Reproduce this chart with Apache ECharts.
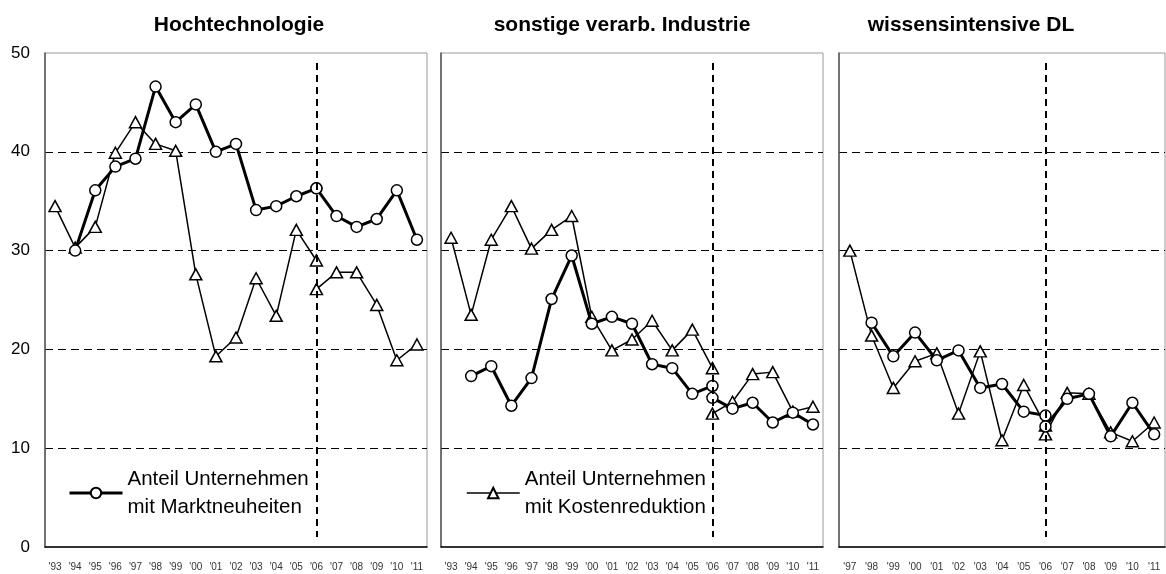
<!DOCTYPE html>
<html>
<head>
<meta charset="utf-8">
<script src="https://cdn.jsdelivr.net/npm/echarts@6/dist/echarts.min.js"></script>
<style>
  html, body { margin: 0; padding: 0; background: #fff; }
  #chart { width: 1166px; height: 574px; }
</style>
</head>
<body>
<div id="chart"></div>
<script>
// Jahre
var jahreLang = ["'93","'94","'95","'96","'97","'98","'99","'00","'01","'02","'03","'04","'05","'06","'07","'08","'09","'10","'11"];
var jahreKurz = ["'97","'98","'99","'00","'01","'02","'03","'04","'05","'06","'07","'08","'09","'10","'11"];
var yTicks = [0, 10, 20, 30, 40, 50];
var titel = ['Hochtechnologie', 'sonstige verarb. Industrie', 'wissensintensive DL'];

// Hochtechnologie: bis '06 (alt) und ab '06 (neu)
var hochMarktAlt = [null, 30.0, 36.1, 38.5, 39.3, 46.6, 43.0, 44.8, 40.0, 40.8, 34.1, 34.5, 35.5, 36.3];
var hochMarktNeu = [36.3, 33.5, 32.4, 33.2, 36.1, 31.1];
var hochKostenAlt = [34.5, 30.3, 32.4, 39.9, 43.0, 40.8, 40.1, 27.6, 19.3, 21.2, 27.2, 23.4, 32.1, 29.0];
var hochKostenNeu = [26.1, 27.8, 27.8, 24.5, 18.9, 20.5];

// sonstige verarb. Industrie
var sonstMarktAlt = [null, 17.3, 18.3, 14.3, 17.1, 25.1, 29.5, 22.6, 23.3, 22.6, 18.5, 18.1, 15.5, 16.3];
var sonstMarktNeu = [15.1, 14.0, 14.6, 12.6, 13.6, 12.4];
var sonstKostenAlt = [31.3, 23.5, 31.1, 34.5, 30.2, 32.1, 33.5, 23.3, 19.9, 21.0, 22.9, 19.9, 22.0, 18.1];
var sonstKostenNeu = [13.5, 14.7, 17.5, 17.7, 13.7, 14.2];

// wissensintensive DL ('97 - '11)
var wissMarktAlt = [null, 22.7, 19.3, 21.7, 18.9, 19.9, 16.1, 16.5, 13.7, 13.3];
var wissMarktNeu = [12.2, 15.0, 15.5, 11.2, 14.6, 11.4];
var wissKostenAlt = [30.0, 21.4, 16.1, 18.8, 19.6, 13.5, 19.8, 10.8, 16.4, 12.3];
var wissKostenNeu = [11.4, 15.6, 15.5, 11.6, 10.7, 12.6];

var MARKT = 'Marktneuheiten';
var KOSTEN = 'Kostenreduktion';
var FONT = '"Liberation Sans", Arial, sans-serif';

function bisAnfang(arr, len) {
    var out = arr.slice();
    while (out.length < len) out.push(null);
    return out;
}
function abEnde(arr, len) {
    var out = arr.slice();
    while (out.length < len) out.unshift(null);
    return out;
}

function linie(name, idx, daten, kreis) {
    return {
        name: name,
        type: 'line',
        xAxisIndex: idx,
        yAxisIndex: idx,
        data: daten,
        symbol: kreis ? 'circle' : 'triangle',
        symbolSize: kreis ? 11 : [12, 11],
        showAllSymbol: true,
        connectNulls: false,
        z: kreis ? 3 : 2,
        lineStyle: { color: '#000', width: kreis ? 3 : 1.5 },
        itemStyle: { color: '#fff', borderColor: '#000', borderWidth: 1.5 },
        emphasis: { disabled: true },
        silent: true
    };
}

function trennLinie(idx, jahr) {
    return {
        type: 'line',
        xAxisIndex: idx,
        yAxisIndex: idx,
        data: [],
        silent: true,
        markLine: {
            silent: true,
            symbol: 'none',
            label: { show: false },
            lineStyle: { color: '#000', width: 2, type: [7, 5] },
            data: [[{ coord: [jahr, 49] }, { coord: [jahr, 1] }]]
        }
    };
}

var panels = [
    { left: 45, width: 382, jahre: jahreLang, markt: [hochMarktAlt, hochMarktNeu], kosten: [hochKostenAlt, hochKostenNeu] },
    { left: 441, width: 382, jahre: jahreLang, markt: [sonstMarktAlt, sonstMarktNeu], kosten: [sonstKostenAlt, sonstKostenNeu] },
    { left: 839, width: 326, jahre: jahreKurz, markt: [wissMarktAlt, wissMarktNeu], kosten: [wissKostenAlt, wissKostenNeu] }
];
var titelMitte = [234, 617, 966];

var grids = [], xAxes = [], yAxes = [], series = [];
panels.forEach(function (p, i) {
    var n = p.jahre.length;
    grids.push({
        left: p.left, width: p.width, top: 53, bottom: 27,
        show: true, borderColor: '#9a9a9a', borderWidth: 1
    });
    xAxes.push({
        type: 'category', gridIndex: i, data: p.jahre, boundaryGap: true,
        axisLine: { lineStyle: { color: '#000', width: 1.5 } },
        axisTick: { show: false },
        axisLabel: { color: '#333', fontSize: 10, fontFamily: FONT, margin: 15, interval: 0 },
        splitLine: { show: false }
    });
    yAxes.push({
        type: 'value', gridIndex: i, min: yTicks[0], max: yTicks[yTicks.length - 1], interval: 10,
        axisLine: { show: true, lineStyle: { color: '#555', width: 1.5 } },
        axisTick: { show: false },
        axisLabel: { show: i === 0, color: '#000', fontSize: 17, fontFamily: FONT, margin: 15 },
        splitLine: { show: true, showMaxLine: false, showMinLine: false, lineStyle: { color: '#000', width: 1, type: [8, 5] } }
    });
    series.push(linie(KOSTEN, i, bisAnfang(p.kosten[0], n), false));
    series.push(linie(KOSTEN, i, abEnde(p.kosten[1], n), false));
    series.push(linie(MARKT, i, bisAnfang(p.markt[0], n), true));
    series.push(linie(MARKT, i, abEnde(p.markt[1], n), true));
    series.push(trennLinie(i, "'06"));
});

var titles = titel.map(function (t, i) {
    return {
        text: t, left: titelMitte[i], top: 10, textAlign: 'center',
        textStyle: { fontFamily: FONT, fontSize: 21, fontWeight: 'bold', color: '#000' }
    };
});

function legende(name, left, breite) {
    return {
        data: [name], left: left, top: 451, padding: 0, orient: 'vertical',
        selectedMode: false, itemWidth: 53, itemHeight: 13,
        lineStyle: { width: breite },
        formatter: function (nm) { return 'Anteil Unternehmen\nmit ' + nm; },
        textStyle: { fontFamily: FONT, fontSize: 20.5, color: '#000', lineHeight: 28, padding: [28, 0, 0, 0] }
    };
}

var myChart = echarts.init(document.getElementById('chart'));
var option = {
    animation: false,
    backgroundColor: '#fff',
    title: titles,
    legend: [legende(MARKT, 68, 3), legende(KOSTEN, 466, 1.5)],
    grid: grids,
    xAxis: xAxes,
    yAxis: yAxes,
    series: series
};
myChart.setOption(option, true);
</script>
</body>
</html>
